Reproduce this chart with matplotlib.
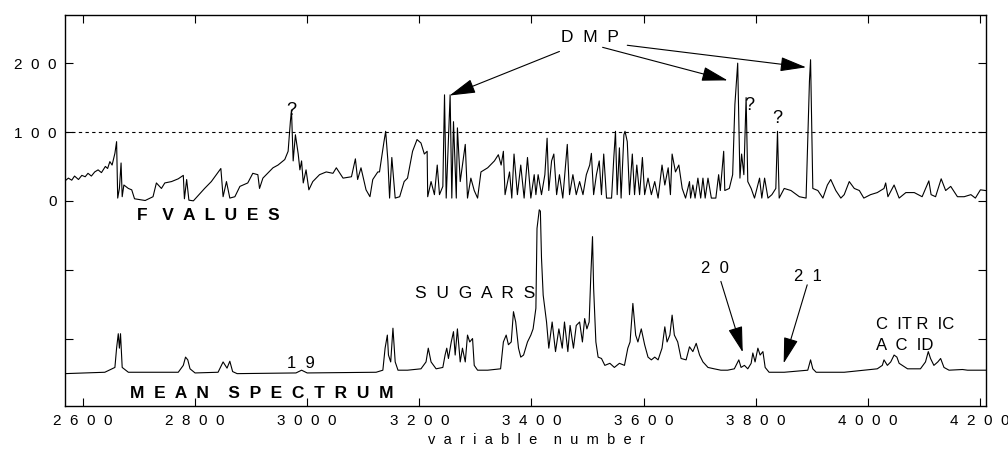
import matplotlib
matplotlib.use("Agg")
import matplotlib.pyplot as plt

plt.rcParams['font.family'] = ['Liberation Sans', 'DejaVu Sans']

# F values trace
f_x = [2568, 2574, 2580, 2585, 2592, 2598, 2604, 2609, 2615, 2621, 2627, 2633, 2640, 2644,
       2648, 2652, 2657, 2660, 2662, 2665, 2668, 2670,
       2673, 2681, 2687, 2692, 2711, 2725, 2731, 2740, 2746, 2758, 2770, 2779, 2781, 2785,
       2789, 2797, 2817, 2829, 2846, 2850, 2856, 2862, 2871, 2880, 2894, 2903, 2912, 2915,
       2921, 2939, 2948, 2960, 2966, 2970, 2972, 2975, 2979, 2984, 2987, 2990, 2993, 2998,
       3003, 3010, 3022, 3034, 3046, 3052, 3064, 3079, 3086, 3090, 3096, 3105, 3112, 3117,
       3126, 3129, 3137, 3140, 3144, 3147, 3151, 3157, 3165, 3173, 3179, 3188, 3196, 3203,
       3209, 3214, 3215, 3221, 3227, 3232, 3236, 3242, 3245, 3248, 3252, 3255, 3258, 3261,
       3266, 3268, 3273, 3277, 3282, 3286, 3292, 3298, 3304, 3310, 3322, 3334, 3341, 3346,
       3350, 3353, 3361, 3365, 3369, 3375, 3381, 3387, 3393, 3399, 3405, 3408, 3412, 3418,
       3424, 3428, 3431, 3436, 3440, 3445, 3450, 3456, 3464, 3468, 3474, 3480, 3486, 3492,
       3498, 3504, 3507, 3511, 3516, 3521, 3525, 3529, 3534, 3543, 3547, 3550, 3553, 3557,
       3560, 3565, 3567, 3571, 3575, 3580, 3584, 3588, 3593, 3598, 3602, 3608, 3614, 3620,
       3626, 3633, 3638, 3644, 3648, 3651, 3657, 3663, 3669, 3675, 3682, 3684, 3688, 3692,
       3697, 3702, 3706, 3710, 3715, 3721, 3729, 3734, 3737, 3743, 3745, 3753, 3759, 3763,
       3768, 3772, 3775, 3779, 3783, 3786, 3792, 3798, 3807, 3811, 3816, 3822, 3829, 3836,
       3839, 3842, 3851, 3863, 3878, 3890, 3896, 3898, 3902, 3911, 3920, 3928, 3934, 3943,
       3952, 3958, 3967, 3976, 3985, 3993, 4005, 4017, 4029, 4032, 4036, 4047, 4056, 4068,
       4083, 4097, 4109, 4113, 4121, 4131, 4139, 4148, 4160, 4172, 4184, 4192, 4201, 4210]
f_y = [29, 33, 30, 36, 31, 37, 35, 40, 36, 42, 45, 41, 50, 47,
       57, 52, 69, 86, 4, 18, 55, 6,
       23, 18, 16, 3, 0.5, 6, 26, 18, 26, 28, 32, 37, 3, 31,
       1, 0, 18, 28, 47, 6, 28, 4, 6, 21, 26, 40, 38, 18,
       33, 48, 52, 60, 72, 115, 132, 58, 96, 68, 45, 58, 26, 45,
       16, 28, 38, 42, 40, 48, 33, 35, 61, 31, 48, 16, 6, 31,
       42, 42, 86, 101, 58, 4, 63, 4, 6, 28, 33, 72, 89, 84,
       68, 72, 6, 28, 9, 52, 9, 21, 154, 4, 91, 154, 4, 115,
       4, 106, 28, 52, 82, 4, 33, 15, 4, 42, 48, 58, 67, 52,
       72, 9, 42, 4, 68, 9, 52, 4, 63, 4, 38, 9, 38, 9,
       38, 91, 15, 58, 68, 9, 38, 4, 82, 9, 38, 9, 28, 9,
       38, 52, 69, 9, 38, 58, 9, 68, 4, 4, 63, 101, 9, 77,
       4, 96, 101, 86, 9, 68, 9, 52, 9, 63, 9, 33, 9, 28,
       4, 52, 23, 48, 9, 68, 42, 52, 18, 4, 28, 4, 23, 4,
       33, 4, 33, 4, 33, 4, 4, 38, 15, 72, 15, 18, 38, 140,
       200, 33, 68, 38, 150, 28, 18, 4, 33, 4, 33, 4, 9, 18,
       101, 4, 18, 15, 6, 4, 174, 205, 18, 15, 4, 23, 31, 15,
       4, 9, 28, 18, 15, 4, 9, 12, 18, 26, 6, 23, 4, 12,
       12, 6, 29, 9, 6, 32, 15, 21, 6, 6, 9, 4, 16, 15]

# mean spectrum, drawn offset below the F values
mean_x = [2568, 2639, 2657, 2660, 2663, 2665, 2667, 2670, 2681, 2770, 2779, 2783, 2787, 2791,
          2800, 2841, 2847, 2850, 2857, 2862, 2867, 2875, 2980, 2990, 3000, 3123, 3135, 3139,
          3143, 3145, 3149, 3153, 3157, 3162, 3179, 3203, 3212, 3216, 3221, 3230, 3242, 3246,
          3249, 3252, 3257, 3261, 3264, 3268, 3273, 3277, 3282, 3286, 3290, 3295, 3298, 3304,
          3322, 3345, 3350, 3355, 3359, 3364, 3368, 3372, 3377, 3381, 3386, 3393, 3399, 3403,
          3408, 3410, 3414, 3416, 3418, 3421, 3424, 3427, 3431, 3437, 3443, 3449, 3455, 3459,
          3465, 3469, 3475, 3480, 3486, 3491, 3495, 3499, 3503, 3506, 3509, 3511, 3515, 3519,
          3525, 3531, 3540, 3548, 3557, 3566, 3572, 3576, 3581, 3586, 3590, 3596, 3602, 3608,
          3614, 3620, 3626, 3633, 3638, 3642, 3647, 3651, 3655, 3661, 3667, 3676, 3682, 3688,
          3694, 3700, 3706, 3715, 3726, 3738, 3750, 3762, 3770, 3774, 3780, 3786, 3792, 3795,
          3799, 3804, 3808, 3813, 3817, 3824, 3851, 3893, 3898, 3902, 3908, 3958, 4017, 4026,
          4029, 4035, 4041, 4047, 4052, 4056, 4071, 4094, 4103, 4108, 4112, 4118, 4125, 4130,
          4136, 4145, 4169, 4178, 4210]
mean_y = [-251, -249, -242, -214, -193, -214, -193, -242, -249, -249, -239, -227, -231, -244,
          -250, -249, -239, -234, -243, -233, -248, -251, -250, -246, -250, -249, -246, -214,
          -195, -224, -234, -185, -234, -246, -246, -244, -234, -214, -234, -244, -242, -224,
          -214, -229, -205, -190, -224, -186, -234, -214, -234, -195, -205, -200, -239, -246,
          -246, -244, -205, -195, -209, -205, -161, -176, -214, -227, -224, -205, -195, -186,
          -156, -40, -13, -15, -83, -137, -156, -176, -214, -176, -219, -186, -214, -176,
          -219, -181, -214, -181, -176, -205, -171, -186, -176, -108, -52, -127, -205, -227,
          -229, -239, -236, -242, -236, -239, -214, -205, -149, -195, -205, -186, -209, -227,
          -231, -227, -231, -214, -183, -205, -195, -166, -195, -205, -229, -231, -212, -219,
          -207, -224, -234, -242, -244, -246, -246, -244, -231, -242, -239, -244, -236, -221,
          -234, -214, -224, -219, -242, -249, -249, -246, -231, -244, -249, -249, -244, -239,
          -231, -239, -234, -224, -227, -236, -244, -244, -234, -219, -229, -239, -234, -229,
          -242, -246, -245, -246, -246]

x_ticks = [2600, 2800, 3000, 3200, 3400, 3600, 3800, 4000, 4200]
x_labels = ['2  6  0  0', '2  8  0  0', '3  0  0  0', '3  2  0  0', '3  4  0  0',
            '3  6  0  0', '3  8  0  0', '4  0  0  0', '4  2  0  0']
y_ticks = [200, 100, 0, -100, -200]
y_labels = ['2  0  0', '1  0  0', '0', '', '']
threshold = 100

fig = plt.figure(figsize=(10.08, 4.51), dpi=100)
ax = fig.add_axes([0.0645, 0.0998, 0.9137, 0.867])

ax.plot(f_x, f_y, color='k', lw=0.8)
ax.plot(mean_x, mean_y, color='k', lw=0.8)
ax.axhline(threshold, color='k', lw=0.8, ls=(0, (3, 3)))

ax.set_xlim(2568, 4211)
ax.set_ylim(-298, 270)
ax.set_xticks(x_ticks)
ax.set_xticklabels(x_labels)
ax.set_yticks(y_ticks)
ax.set_yticklabels(y_labels)
ax.tick_params(direction='in', top=True, right=True, length=6, width=0.8, labelsize=11)
ax.tick_params(axis='x', pad=6)
ax.tick_params(axis='y', pad=6)
for s in ax.spines.values():
    s.set_linewidth(1.0)

ax.set_xlabel('v  a  r  i  a  b  l  e    n  u  m  b  e  r', fontsize=10.5)
ax.xaxis.set_label_coords(0.512, -0.068)

# labels on the traces
ax.text(2823, -22, 'F   V  A  L  U  E  S', fontsize=12.5, fontweight='bold', ha='center', va='center')
ax.text(2919, -280, 'M  E  A  N    S  P  E  C  T  R  U  M', fontsize=12.5, fontweight='bold',
        ha='center', va='center')
ax.text(3300, -134, 'S  U  G  A  R  S', fontsize=12.5, ha='center', va='center')
ax.text(2989, -236, '1  9', fontsize=12, ha='center', va='center')
ax.text(4015, -180, 'C  IT R  IC', fontsize=12, ha='left', va='center')
ax.text(4015, -210, 'A  C  ID', fontsize=12, ha='left', va='center')
ax.text(2972, 131, '?', fontsize=13, ha='center', va='center')
ax.text(3789, 139, '?', fontsize=13, ha='center', va='center')
ax.text(3838, 119, '?', fontsize=13, ha='center', va='center')

# DMP arrows
ax.text(3504, 237, 'D  M  P', fontsize=12.5, ha='center', va='center')
arrow = dict(arrowstyle='-|>,head_length=0.9,head_width=0.25', color='k', lw=0.8,
             shrinkA=0, shrinkB=0, mutation_scale=18)
ax.annotate('', xy=(3254, 153), xytext=(3450, 217), arrowprops=arrow)
ax.annotate('', xy=(3750, 175), xytext=(3527, 223), arrowprops=arrow)
ax.annotate('', xy=(3890, 194), xytext=(3571, 226), arrowprops=arrow)

# peaks 20 and 21
ax.text(3728, -98, '2  0', fontsize=12, ha='center', va='center')
ax.text(3894, -110, '2  1', fontsize=12, ha='center', va='center')
ax.annotate('', xy=(3777, -220), xytext=(3738, -117), arrowprops=arrow)
ax.annotate('', xy=(3850, -236), xytext=(3892, -122), arrowprops=arrow)

plt.savefig("out.png", dpi=100)
